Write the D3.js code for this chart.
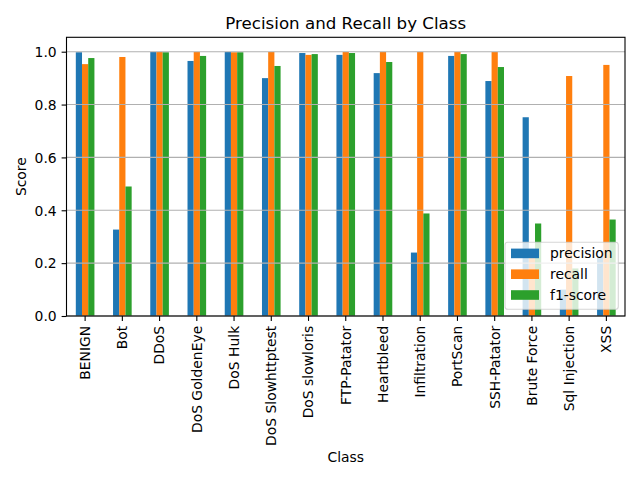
<!DOCTYPE html>
<html><head><meta charset="utf-8">
<script src="https://cdn.jsdelivr.net/npm/d3@7"></script>
<style>body{margin:0;background:#fff}svg{display:block;font-family:"DejaVu Sans",sans-serif}</style>
</head><body>
<svg id="c" width="640" height="480"></svg>
<script>
const categories = ["BENIGN","Bot","DDoS","DoS GoldenEye","DoS Hulk","DoS Slowhttptest","DoS slowloris","FTP-Patator","Heartbleed","Infiltration","PortScan","SSH-Patator","Brute Force","Sql Injection","XSS"];
const seriesNames = ["precision","recall","f1-score"];
const precision = [0.998,0.327,0.999,0.965,0.999,0.900,0.995,0.988,0.919,0.240,0.984,0.889,0.752,0.100,0.226];
const recall    = [0.953,0.980,0.999,0.999,0.998,0.999,0.988,0.999,0.999,0.999,0.999,0.999,0.228,0.908,0.950];
const f1score   = [0.976,0.490,0.998,0.984,0.998,0.946,0.991,0.995,0.961,0.388,0.991,0.942,0.350,0.180,0.365];
const yTicks = [0.0,0.2,0.4,0.6,0.8,1.0];
const colors = ["#1f77b4","#ff7f0e","#2ca02c"];
const series = [precision, recall, f1score];

const svg = d3.select("#c");
const L = 66.5, R = 625, T = 37.3, B = 316;
const x = d3.scaleBand().domain(categories).range([L, R]).paddingInner(0).paddingOuter(0);
const x1 = d3.scaleBand().domain(seriesNames).range([x.bandwidth()*0.25, x.bandwidth()*0.75]);
const y = d3.scaleLinear().domain([0, 1.0545]).range([B, T]);

// bars
const g = svg.append("g");
categories.forEach((c, i) => {
  seriesNames.forEach((s, j) => {
    const v = series[j][i];
    g.append("rect")
      .attr("x", x(c) + x1(s))
      .attr("width", x1.bandwidth())
      .attr("y", y(v))
      .attr("height", y(0) - y(v))
      .attr("fill", colors[j]);
  });
});

// grid (above bars)
svg.append("g").selectAll("line").data(yTicks).join("line")
  .attr("x1", L).attr("x2", R)
  .attr("y1", d => y(d)).attr("y2", d => y(d))
  .attr("stroke", "#b0b0b0").attr("stroke-width", 1.1);

// axes
const yAxis = d3.axisLeft(y).tickValues(yTicks).tickFormat(d3.format(".1f")).tickSize(4.9).tickPadding(4.9);
const ya = svg.append("g").attr("transform", `translate(${L},0)`).call(yAxis);
ya.select(".domain").remove();
ya.selectAll("line").attr("stroke", "#000").attr("stroke-width", 1.1);
ya.selectAll("text").attr("font-size", "13.9px").attr("fill", "#000").attr("font-family", "DejaVu Sans").attr("dy", "0.34em");

const xAxis = d3.axisBottom(x).tickSize(4.9).tickPadding(4.9);
const xa = svg.append("g").attr("transform", `translate(0,${B})`).call(xAxis);
xa.select(".domain").remove();
xa.selectAll("line").attr("stroke", "#000").attr("stroke-width", 1.1);
xa.selectAll("text").attr("font-size", "13.9px").attr("fill", "#000").attr("font-family", "DejaVu Sans")
  .attr("transform", "translate(0,9.8) rotate(-90)")
  .attr("text-anchor", "end").attr("x", 0).attr("y", 0).attr("dy", "0.35em");

// spines
svg.append("rect").attr("x", L).attr("y", T).attr("width", R - L).attr("height", B - T)
  .attr("fill", "none").attr("stroke", "#000").attr("stroke-width", 1.1);

// title & labels
svg.append("text").attr("x", (L + R) / 2).attr("y", 29).attr("text-anchor", "middle")
  .attr("font-size", "16.67px").text("Precision and Recall by Class");
svg.append("text").attr("x", (L + R) / 2).attr("y", 462).attr("text-anchor", "middle")
  .attr("font-size", "13.9px").text("Class");
svg.append("text").attr("transform", `translate(26,${(T + B) / 2}) rotate(-90)`).attr("text-anchor", "middle")
  .attr("font-size", "13.9px").text("Score");

// legend
const lg = svg.append("g");
lg.append("rect").attr("x", 505).attr("y", 242.3).attr("width", 113.3).attr("height", 67)
  .attr("rx", 2.8).attr("fill", "#fff").attr("fill-opacity", 0.8).attr("stroke", "#cccccc").attr("stroke-width", 1.1).attr("stroke-opacity", 0.8);
seriesNames.forEach((s, j) => {
  const cy = 253.3 + j * 20.8;
  lg.append("rect").attr("x", 511).attr("y", cy - 4.7).attr("width", 28).attr("height", 9.6).attr("fill", colors[j]);
  lg.append("text").attr("x", 550).attr("y", cy).attr("dy", "0.36em").attr("font-size", "13.9px").text(s);
});
</script>
</body></html>
